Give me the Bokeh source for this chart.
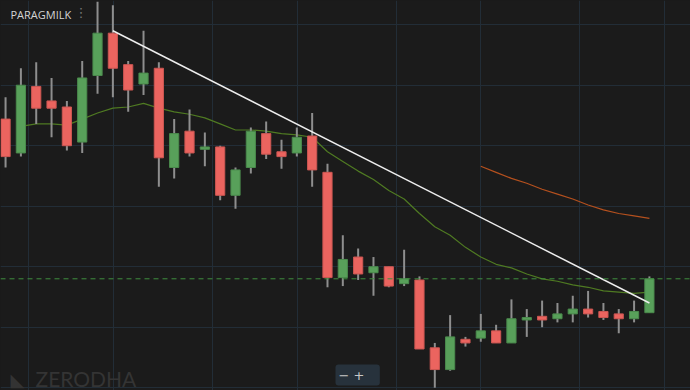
import math
from bokeh.plotting import figure
from bokeh.models import ColumnDataSource, Range1d, FixedTicker, Span, Label
from bokeh.embed import file_html
from bokeh.resources import INLINE

# ---- data ----
opens = [132.2, 129.4, 134.9, 133.7, 133.2, 130.3, 135.8, 139.3, 136.7, 135.1,
         136.4, 128.2, 131.2, 129.7, 129.9, 125.9, 128.2, 131.0, 129.5, 129.4,
         130.8, 127.8, 119.1, 120.8, 119.5, 120.0, 118.6, 118.9, 113.3, 111.5,
         114.0, 114.1, 114.7, 113.7, 115.6, 115.9, 115.7, 116.1, 116.5, 116.3,
         116.1, 115.7, 116.2]
highs = [134.0, 136.4, 136.9, 135.6, 133.7, 137.0, 141.9, 141.6, 137.0, 139.5,
         136.9, 132.2, 133.0, 131.1, 130.0, 128.2, 131.5, 132.0, 130.5, 131.5,
         132.7, 128.5, 122.6, 121.5, 120.8, 120.0, 121.4, 119.2, 113.7, 116.0,
         114.2, 116.1, 115.2, 117.3, 116.5, 117.2, 117.0, 117.6, 118.0, 117.0,
         116.5, 117.2, 119.2]
lows = [128.2, 129.1, 131.8, 130.7, 129.6, 129.4, 134.3, 134.0, 132.8, 134.2,
        126.6, 127.3, 129.1, 128.3, 125.5, 124.8, 127.7, 128.9, 128.1, 129.1,
        126.6, 118.3, 118.4, 118.9, 117.6, 118.3, 118.4, 113.2, 110.0, 111.4,
        113.4, 113.8, 113.7, 113.7, 114.2, 115.0, 115.4, 115.4, 115.8, 115.6,
        114.5, 115.4, 116.2]
closes = [129.1, 135.0, 133.1, 133.1, 130.0, 135.6, 139.3, 136.4, 134.6, 136.0,
          129.0, 131.0, 129.4, 129.9, 125.9, 128.0, 131.2, 129.3, 129.1, 130.7,
          128.0, 119.1, 120.6, 119.4, 120.0, 118.4, 119.0, 113.2, 111.5, 114.2,
          113.7, 114.7, 113.7, 115.7, 115.8, 115.6, 116.1, 116.5, 116.1, 115.8,
          115.7, 116.3, 119.0]
nan = float("nan")
ma_fast = [nan, 131.6, 131.8, 131.8, 131.7, 132.2, 132.7, 133.1, 133.2, 133.5,
           133.1, 132.8, 132.6, 132.3, 131.8, 131.3, 131.3, 131.2, 131.0, 130.9,
           130.7, 129.5, 128.7, 127.9, 127.2, 126.3, 125.6, 124.4, 123.3, 122.6,
           121.6, 120.8, 120.2, 119.9, 119.4, 119.0, 118.8, 118.5, 118.3, 118.0,
           117.9, 117.8, 117.9]
ma_slow = [nan] * 31 + [128.3, 127.8, 127.3, 126.9, 126.4, 126.0, 125.6, 125.1,
                        124.7, 124.4, 124.2, 124.0]
trend_x = [7, 42]
trend_y = [139.5, 117.0]
symbol = "PARAGMILK"

# ---- styles ----
BG = "#1b1b1b"
UP = "#58a05a"
DOWN = "#eb645f"
UP_EDGE = "#4a8a4c"
DOWN_EDGE = "#cc5652"
GRID = "#222d37"

idx = list(range(len(opens)))
body_top = [max(o, c) for o, c in zip(opens, closes)]
body_bot = [min(o, c) for o, c in zip(opens, closes)]
fills = [UP if c >= o else DOWN for o, c in zip(opens, closes)]
edges = [UP_EDGE if c >= o else DOWN_EDGE for o, c in zip(opens, closes)]
src = ColumnDataSource(dict(x=idx, top=body_top, bottom=body_bot, high=highs,
                            low=lows, fill=fills, edge=edges))

p = figure(width=690, height=390, output_backend="svg", toolbar_location=None,
           x_range=Range1d(-0.33, 44.68), y_range=Range1d(109.77, 142.0),
           min_border=0, background_fill_color=BG, border_fill_color=BG)
p.outline_line_color = None
p.xaxis.visible = False
p.yaxis.visible = False
p.xgrid.ticker = FixedTicker(ticks=[1.5, 7.05, 13.5, 19.05, 25.5, 31.0, 37.45, 43.0])
p.ygrid.ticker = FixedTicker(ticks=[110, 115, 120, 125, 130, 135, 140])
for g in (p.xgrid, p.ygrid):
    g.grid_line_color = GRID
    g.grid_line_width = 1

p.line(x=idx, y=ma_fast, line_color="#4f7a22", line_width=1.2)
p.line(x=idx, y=ma_slow, line_color="#b4501e", line_width=1.2)

p.segment(x0="x", y0="low", x1="x", y1="high", source=src,
          line_color="#8e8e8e", line_width=2)
p.vbar(x="x", width=0.6, top="top", bottom="bottom", source=src,
       fill_color="fill", line_color="edge", line_width=1)

p.add_layout(Span(location=closes[-1], dimension="width", line_color="#3f8f3f",
                  line_dash="5 4", line_width=1))
p.line(x=trend_x, y=trend_y, line_color="#eeeeee", line_width=1.5)

p.add_layout(Label(x=10, y=384, x_units="screen", y_units="screen", text=symbol,
                   text_font="Open Sans", text_font_size="11px",
                   text_color="#d4d4d4", text_baseline="top"))
p.add_layout(Label(x=74, y=386, x_units="screen", y_units="screen", text="⋮",
                   text_font="DejaVu Sans", text_font_size="13px",
                   text_color="#777777", text_baseline="top"))
p.add_layout(Label(x=10, y=1, x_units="screen", y_units="screen", text="◣",
                   text_font="DejaVu Sans", text_font_size="18px",
                   text_color="#333333", text_baseline="bottom"))
p.add_layout(Label(x=35, y=0, x_units="screen", y_units="screen", text="ZERODHA",
                   text_font="Lato", text_font_size="21px",
                   text_color="#343434", text_baseline="bottom"))
p.add_layout(Label(x=335, y=5, x_units="screen", y_units="screen", text="−    +",
                   text_font="DejaVu Sans", text_font_size="13px",
                   text_color="#c8c8c8", text_baseline="bottom",
                   background_fill_color="#27323c", background_fill_alpha=1.0,
                   padding=3, border_radius=3))

html = file_html(p, INLINE)
html = html.replace("<head>", "<head><style>html,body{margin:0;padding:0;overflow:hidden;background:%s;}</style>" % BG, 1)
open("out.html", "w").write(html)
